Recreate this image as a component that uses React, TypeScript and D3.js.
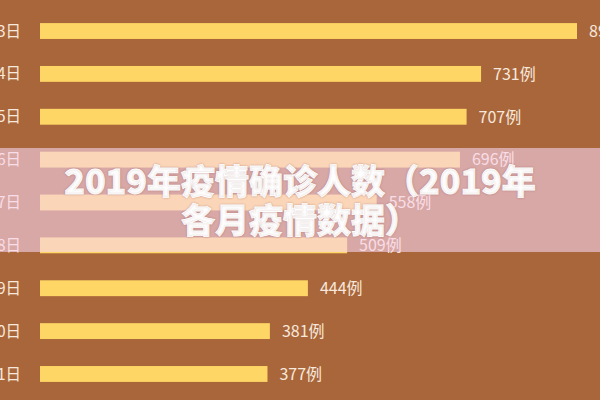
import React, { useEffect, useRef } from 'react';
import * as d3 from 'd3';

// dates on the left (partly cut off in the picture)
const days = ['2月3日', '2月4日', '2月5日', '2月6日', '2月7日', '2月8日', '2月9日', '2月10日', '2月11日'];
// confirmed cases per day
const cases = [890, 731, 707, 696, 558, 509, 444, 381, 377];
const titleLines = ['2019年疫情确诊人数（2019年', '各月疫情数据）'];

const App: React.FC = () => {
  const chartRef = useRef<SVGSVGElement>(null);

  useEffect(() => {
    const svg = d3.select(chartRef.current!);
    drawChart();
    return () => {
      svg.selectAll('*').remove();
    };
  }, []);

  const drawChart = () => {
    const width = 600;
    const height = 400;
    const svg = d3
      .select(chartRef.current!)
      .attr('width', width)
      .attr('height', height);

    const font = '"Noto Sans CJK SC", "Noto Sans", sans-serif';

    // background
    svg
      .append('rect')
      .attr('width', width)
      .attr('height', height)
      .attr('fill', '#A9663A');

    const y = d3
      .scaleBand()
      .domain(days)
      .range([9.6, 395.4])
      .paddingInner(0.63)
      .paddingOuter(0.315);

    const x = d3.scaleLinear().domain([0, 890]).range([40, 577]);

    const rows = svg
      .append('g')
      .selectAll('g')
      .data(days.map((d, i) => ({ day: d, value: cases[i] })))
      .enter()
      .append('g');

    rows
      .append('rect')
      .attr('x', x(0))
      .attr('y', (d) => y(d.day)!)
      .attr('width', (d) => x(d.value) - x(0))
      .attr('height', y.bandwidth())
      .attr('fill', '#FDD666');

    rows
      .append('text')
      .attr('x', 21)
      .attr('y', (d) => y(d.day)! + y.bandwidth() / 2)
      .attr('dy', '0.36em')
      .attr('text-anchor', 'end')
      .attr('font-family', font)
      .attr('font-size', 15.5)
      .attr('fill', '#F7E8DC')
      .text((d) => d.day);

    rows
      .append('text')
      .attr('x', (d) => x(d.value) + 12)
      .attr('y', (d) => y(d.day)! + y.bandwidth() / 2)
      .attr('dy', '0.36em')
      .attr('font-family', font)
      .attr('font-size', 16)
      .attr('fill', '#F7E8DC')
      .text((d) => d.value + '例');

    // translucent band behind the title
    svg
      .append('rect')
      .attr('x', 0)
      .attr('y', 148)
      .attr('width', width)
      .attr('height', 104)
      .attr('fill', 'rgb(249,212,238)')
      .attr('fill-opacity', 0.6);

    svg
      .append('g')
      .selectAll('text')
      .data(titleLines)
      .enter()
      .append('text')
      .attr('x', width / 2)
      .attr('y', (d, i) => 182 + i * 39)
      .attr('dy', '0.36em')
      .attr('text-anchor', 'middle')
      .attr('font-family', font)
      .attr('font-weight', 900)
      .attr('font-size', 34)
      .attr('fill', '#FFFFFF')
      .attr('stroke', '#FFFFFF')
      .attr('stroke-width', 0.8)
      .style('text-shadow', '0 0 2px rgba(120,60,60,0.35)')
      .text((d) => d);
  };

  return (
    <div style={{ position: 'absolute', left: 0, top: 0 }}>
      <svg ref={chartRef} style={{ display: 'block' }} />
    </div>
  );
};

export default App;
